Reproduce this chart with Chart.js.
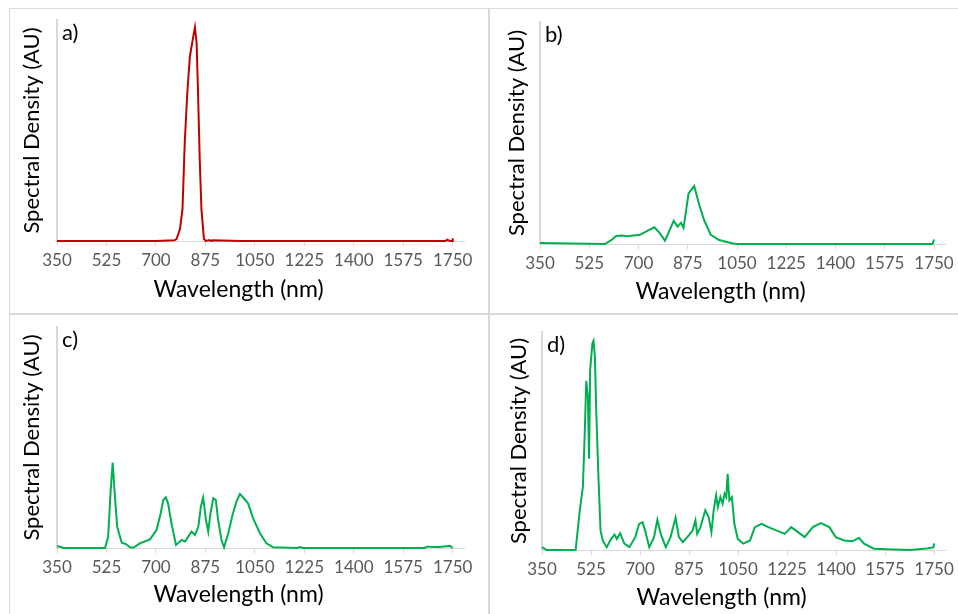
<!DOCTYPE html>
<html>
<head>
<meta charset="utf-8">
<script src="https://cdn.jsdelivr.net/npm/chart.js@4"></script>
<style>
  body { margin: 0; background: #fff; }
  #wrap { position: relative; width: 958px; height: 614px; background: #fff; overflow: hidden; }
  .line { position: absolute; background: #D9D9D9; }
  .panel { position: absolute; }
</style>
</head>
<body>
<div id="wrap">
  <div class="line" style="left:9px;top:8px;width:949px;height:1px"></div>
  <div class="line" style="left:9px;top:8px;width:1px;height:606px"></div>
  <div class="line" style="left:488px;top:8px;width:2px;height:606px"></div>
  <div class="line" style="left:9px;top:313px;width:949px;height:2px"></div>

  <div class="panel" style="left:10px;top:9px;width:478px;height:304px"><canvas id="chart-a"></canvas></div>
  <div class="panel" style="left:491px;top:9px;width:467px;height:304px"><canvas id="chart-b"></canvas></div>
  <div class="panel" style="left:10px;top:315px;width:478px;height:299px"><canvas id="chart-c"></canvas></div>
  <div class="panel" style="left:491px;top:315px;width:467px;height:299px"><canvas id="chart-d"></canvas></div>
</div>
<script>
// tick labels on the wavelength axis
var xTicks = [350, 525, 700, 875, 1050, 1225, 1400, 1575, 1750];

// a) red spectrum
var aWave = [350, 700, 765, 773, 785, 794, 802, 811, 820, 830, 838, 844, 849, 855, 861, 870, 877, 890, 895, 900, 1000, 1700, 1725, 1730, 1740, 1748, 1750];
var aDensity = [0, 0, 0.003, 0.009, 0.054, 0.144, 0.446, 0.671, 0.833, 0.91, 0.967, 0.896, 0.671, 0.369, 0.144, 0.009, 0, 0.004, 0, 0.003, 0, 0, 0, 0.006, 0, 0, 0.012];

// b)
var bWave = [350, 580, 600, 621, 640, 660, 680, 703, 730, 756, 775, 794, 810, 825, 839, 851, 860, 878, 898, 916, 933, 957, 986, 1032, 1050, 1745, 1750];
var bDensity = [0.004, 0, 0.015, 0.036, 0.038, 0.035, 0.038, 0.04, 0.058, 0.075, 0.05, 0.015, 0.06, 0.104, 0.078, 0.096, 0.073, 0.228, 0.261, 0.176, 0.108, 0.041, 0.018, 0.003, 0, 0, 0.02];

// c)
var cWave = [350, 360, 372, 520, 531, 540, 547, 555, 563, 579, 594, 608, 620, 643, 679, 702, 717, 726, 735, 743, 755, 771, 791, 803, 826, 838, 850, 859, 867, 877, 885, 893, 903, 912, 920, 932, 941, 956, 971, 985, 997, 1011, 1026, 1044, 1068, 1091, 1115, 1200, 1210, 1220, 1650, 1660, 1700, 1720, 1740, 1750];
var cDensity = [0.009, 0.006, 0, 0, 0.051, 0.262, 0.386, 0.232, 0.096, 0.024, 0.018, 0.003, 0.001, 0.021, 0.039, 0.081, 0.157, 0.217, 0.229, 0.202, 0.112, 0.014, 0.036, 0.029, 0.074, 0.059, 0.096, 0.187, 0.228, 0.127, 0.074, 0.157, 0.225, 0.217, 0.127, 0.036, 0.003, 0.067, 0.149, 0.21, 0.244, 0.225, 0.202, 0.134, 0.067, 0.021, 0.003, 0, 0.004, 0, 0, 0.006, 0.004, 0.007, 0.01, 0];

// d)
var dWave = [350, 367, 470, 485, 496, 503, 508, 514, 518, 522, 530, 534, 539, 544, 552, 559, 567, 581, 597, 609, 617, 629, 644, 662, 683, 697, 709, 718, 733, 750, 762, 774, 792, 809, 827, 839, 853, 874, 888, 898, 904, 916, 933, 945, 955, 963, 972, 978, 987, 995, 1002, 1008, 1013, 1019, 1028, 1037, 1049, 1069, 1093, 1110, 1134, 1158, 1187, 1217, 1240, 1264, 1288, 1317, 1346, 1376, 1399, 1429, 1459, 1482, 1500, 1535, 1606, 1665, 1724, 1748, 1750];
var dDensity = [0.013, 0, 0, 0.182, 0.289, 0.549, 0.776, 0.703, 0.419, 0.825, 0.948, 0.96, 0.886, 0.626, 0.32, 0.09, 0.044, 0.013, 0.051, 0.071, 0.051, 0.077, 0.029, 0.013, 0.059, 0.12, 0.128, 0.09, 0.013, 0.059, 0.139, 0.074, 0.013, 0.059, 0.148, 0.059, 0.036, 0.067, 0.09, 0.136, 0.074, 0.105, 0.182, 0.151, 0.082, 0.182, 0.251, 0.197, 0.243, 0.212, 0.258, 0.243, 0.35, 0.228, 0.243, 0.12, 0.051, 0.029, 0.044, 0.105, 0.12, 0.105, 0.09, 0.074, 0.105, 0.082, 0.059, 0.105, 0.123, 0.105, 0.059, 0.044, 0.04, 0.056, 0.029, 0.006, 0.002, 0, 0.007, 0.012, 0.03];

var FONT = 'Lato, "Open Sans", sans-serif';

// panel letter + x-axis title (Excel puts the title a bit left of centre)
var panelText = {
	id: 'panelText',
	afterDraw: function(chart, args, opts) {
		var ctx = chart.ctx, area = chart.chartArea;
		ctx.save();
		ctx.fillStyle = '#000';
		ctx.font = '22px ' + FONT;
		ctx.textBaseline = 'middle';
		ctx.textAlign = 'left';
		ctx.fillText(opts.tag, area.left + 5, area.top + 13);
		ctx.font = '23px ' + FONT;
		ctx.textAlign = 'center';
		ctx.fillText(opts.xTitle, (area.left + area.right) / 2 - 22, chart.height - opts.xTitleBottom);
		ctx.restore();
	}
};

function makePanel(id, wave, density, color, tag, lay) {
	var points = wave.map(function(w, i) { return { x: w, y: density[i] }; });
	return new Chart(document.getElementById(id).getContext('2d'), {
		type: 'line',
		data: {
			datasets: [{
				data: points,
				borderColor: color,
				borderWidth: 2,
				pointRadius: 0,
				tension: 0,
				fill: false,
				clip: 4
			}]
		},
		options: {
			responsive: true,
			maintainAspectRatio: false,
			animation: false,
			events: [],
			layout: { padding: { top: lay.top, right: lay.right, left: 0, bottom: 0 } },
			plugins: {
				legend: { display: false },
				tooltip: { enabled: false },
				panelText: { tag: tag, xTitle: 'Wavelength (nm)', xTitleBottom: lay.xTitleBottom }
			},
			scales: {
				x: {
					type: 'linear',
					min: 350,
					max: 1790,
					afterBuildTicks: function(scale) {
						scale.ticks = xTicks.map(function(v) { return { value: v }; });
					},
					afterFit: function(scale) { scale.height = lay.xh; },
					ticks: {
						color: '#595959',
						font: { family: FONT, size: 17 },
						padding: 4,
						maxRotation: 0,
						autoSkip: false,
						callback: function(v) { return String(v); }
					},
					grid: { display: true, drawOnChartArea: false, drawTicks: true, tickLength: 5, color: '#D9D9D9', lineWidth: 1 },
					border: { display: true, color: '#D9D9D9', width: 1 }
				},
				y: {
					min: 0,
					max: 1,
					afterFit: function(scale) { scale.width = lay.yw; },
					ticks: { display: false },
					grid: { display: false, drawTicks: false },
					border: { display: true, color: '#D9D9D9', width: 2 },
					title: {
						display: true,
						text: 'Spectral Density (AU)',
						color: '#000',
						font: { family: FONT, size: 22 },
						padding: { top: lay.yTitlePad, bottom: 0 }
					}
				}
			}
		},
		plugins: [panelText]
	});
}

makePanel('chart-a', aWave, aDensity, '#C00000', 'a)', { top: 11, right: 24, yw: 47, xh: 72, yTitlePad: 9, xTitleBottom: 23 });
makePanel('chart-b', bWave, bDensity, '#00B050', 'b)', { top: 13, right: 10, yw: 49, xh: 69, yTitlePad: 13, xTitleBottom: 21 });
makePanel('chart-c', cWave, cDensity, '#00B050', 'c)', { top: 12, right: 24, yw: 47, xh: 66, yTitlePad: 9, xTitleBottom: 19 });
makePanel('chart-d', dWave, dDensity, '#00B050', 'd)', { top: 17, right: 9, yw: 51, xh: 64, yTitlePad: 15, xTitleBottom: 16 });
</script>
</body>
</html>
